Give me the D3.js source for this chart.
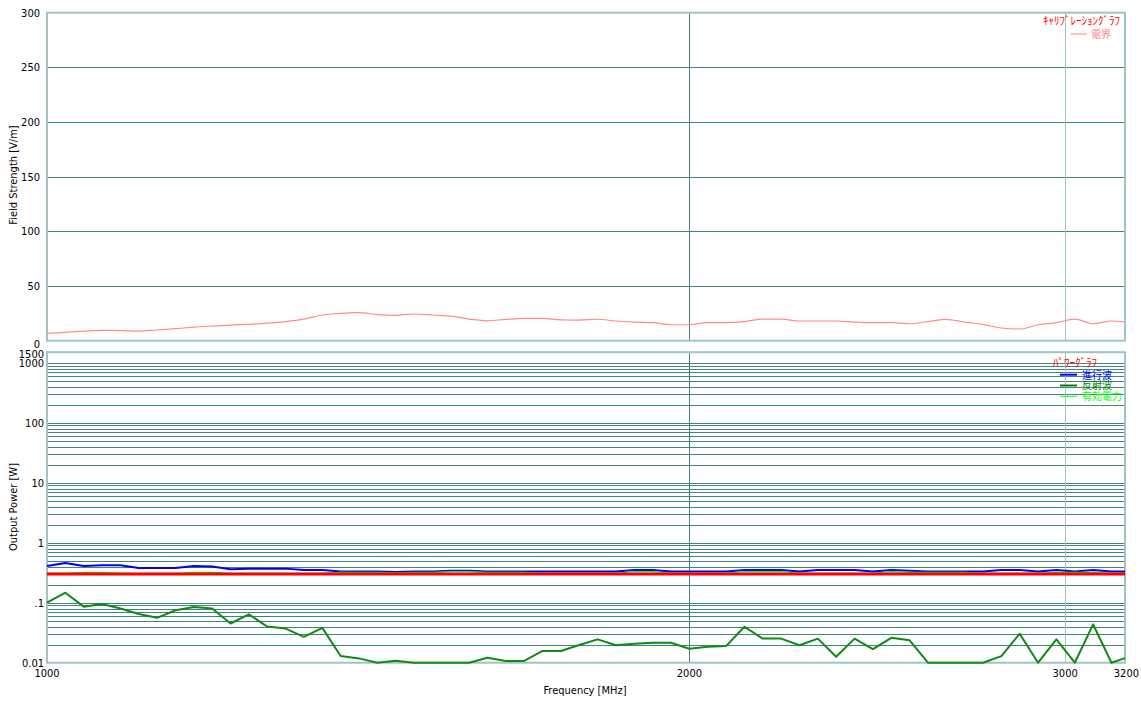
<!DOCTYPE html>
<html>
<head>
<meta charset="utf-8">
<script src="https://cdn.jsdelivr.net/npm/d3@7"></script>
<style>
  body { margin: 0; background: #fff; }
  svg text { font-family: "Liberation Sans Narrow", "DejaVu Sans Condensed", sans-serif; font-size: 11px; fill: #000; }
  .jp { font-family: "Noto Sans CJK JP", sans-serif; font-size: 10px; }
</style>
</head>
<body>
<svg id="chart" width="1141" height="704"></svg>
<script>
// sweep points (MHz), 2% steps
const freqMHz = [1000, 1020, 1040.4, 1061.2, 1082.4, 1104.1, 1126.2, 1148.7, 1171.7, 1195.1,
  1219.0, 1243.4, 1268.2, 1293.6, 1319.5, 1345.9, 1372.8, 1400.2, 1428.2, 1456.8,
  1485.9, 1515.7, 1546.0, 1576.9, 1608.4, 1640.6, 1673.4, 1706.9, 1741.0, 1775.8,
  1811.4, 1847.6, 1884.5, 1922.2, 1960.7, 1999.9, 2039.9, 2080.7, 2122.3, 2164.7,
  2208.0, 2252.2, 2297.2, 2343.2, 2390.1, 2437.9, 2486.6, 2536.4, 2587.1, 2638.8,
  2691.6, 2745.4, 2800.3, 2856.3, 2913.5, 2971.7, 3031.2, 3091.8, 3153.6, 3200];

// calibration graph: field strength [V/m]
const fieldStrength = [6.7, 7.7, 8.7, 9.4, 9.3, 8.8, 9.8, 11, 12.4, 13.4,
  14.3, 15, 16, 17.5, 19.8, 23.5, 25, 25.6, 23.8, 23.2,
  24.4, 23.5, 22.5, 19.8, 18.2, 19.5, 20.4, 20.4, 19, 18.9,
  19.6, 18, 17, 16.5, 14.6, 14.6, 16.5, 16.5, 17.4, 19.8,
  19.8, 18, 18, 18, 17, 16.5, 16.5, 15.5, 17.4, 19.5,
  17, 15, 11.6, 10.7, 14.6, 16.5, 19.8, 15.5, 18, 17];

// power graph [W]
const forwardPower = [0.41, 0.46, 0.41, 0.42, 0.42, 0.38, 0.38, 0.38, 0.41, 0.40,
  0.36, 0.37, 0.37, 0.37, 0.35, 0.35, 0.33, 0.33, 0.33, 0.325,
  0.33, 0.33, 0.34, 0.34, 0.33, 0.33, 0.33, 0.33, 0.33, 0.33,
  0.33, 0.33, 0.35, 0.35, 0.33, 0.33, 0.33, 0.33, 0.35, 0.35,
  0.35, 0.33, 0.35, 0.35, 0.35, 0.33, 0.35, 0.34, 0.33, 0.33,
  0.33, 0.33, 0.35, 0.35, 0.33, 0.35, 0.33, 0.35, 0.33, 0.33];
const reflectedPower = [0.100, 0.147, 0.086, 0.095, 0.080, 0.065, 0.056, 0.075, 0.085, 0.080,
  0.045, 0.064, 0.040, 0.037, 0.027, 0.038, 0.0129, 0.0118, 0.0100, 0.0108,
  0.0100, 0.0100, 0.0100, 0.0100, 0.0121, 0.0107, 0.0107, 0.0157, 0.0157, 0.0197,
  0.0245, 0.0195, 0.0207, 0.0215, 0.0215, 0.0171, 0.0184, 0.0189, 0.0398, 0.0252,
  0.0252, 0.0195, 0.0252, 0.0126, 0.0252, 0.0169, 0.0260, 0.0236, 0.0100, 0.0100,
  0.0100, 0.0100, 0.0129, 0.0304, 0.0100, 0.0245, 0.0100, 0.0436, 0.0100, 0.0119];
const netPower = [0.31, 0.31, 0.32, 0.32, 0.31, 0.31, 0.31, 0.31, 0.32, 0.32,
  0.31, 0.31, 0.31, 0.31, 0.31, 0.31, 0.32, 0.32, 0.32, 0.315,
  0.32, 0.32, 0.33, 0.33, 0.32, 0.32, 0.32, 0.31, 0.31, 0.31,
  0.31, 0.31, 0.33, 0.33, 0.31, 0.31, 0.31, 0.31, 0.33, 0.33,
  0.33, 0.31, 0.31, 0.31, 0.31, 0.31, 0.33, 0.32, 0.32, 0.32,
  0.32, 0.31, 0.31, 0.31, 0.31, 0.32, 0.32, 0.32, 0.31, 0.31];
const targetPower = freqMHz.map(() => 0.3);

const freqTicks = [1000, 2000, 3000, 3200];
const fieldTicks = [0, 50, 100, 150, 200, 250, 300];
const powerTickLabels = [[1500, "1500"], [1000, "1000"], [100, "100"], [10, "10"], [1, "1"], [0.1, ".1"], [0.01, "0.01"]];

const legendField = [{ name: "電界", color: "#ff8080", width: 1 }];
const legendPower = [
  { name: "進行波", color: "#0000ff", width: 2 },
  { name: "反射波", color: "#008000", width: 2 },
  { name: "有効電力", color: "#00ff00", width: 1 }];

// ------- layout -------
const left = 47, right = 1125;
const gridColor = "#3f8383", frameColor = "#9fc4c4";
const svg = d3.select("#chart");

const x = d3.scaleLog().domain([1000, 3200]).range([left, right]);
const yField = d3.scaleLinear().domain([0, 300]).range([340.7, 12.7]);
const yPower = d3.scaleLog().domain([0.01, 1500]).range([662.7, 352.2]);

// ------- top panel: field strength -------
const fieldPanel = svg.append("g");
fieldPanel.selectAll(".hgrid").data(fieldTicks.slice(1, -1)).join("line")
  .attr("x1", left).attr("x2", right)
  .attr("y1", d => Math.round(yField(d)) + 0.5).attr("y2", d => Math.round(yField(d)) + 0.5)
  .attr("stroke", gridColor);
fieldPanel.selectAll(".vgrid").data([2000, 3000]).join("line")
  .attr("x1", d => Math.round(x(d)) + 0.5).attr("x2", d => Math.round(x(d)) + 0.5)
  .attr("y1", yField(300)).attr("y2", yField(0))
  .attr("stroke", d => d == 2000 ? gridColor : frameColor);
fieldPanel.append("rect").attr("x", left).attr("y", yField(300))
  .attr("width", right - left).attr("height", yField(0) - yField(300))
  .attr("fill", "none").attr("stroke", frameColor).attr("stroke-width", 2);
fieldPanel.selectAll(".ylab").data(fieldTicks).join("text")
  .attr("x", 40).attr("y", d => d == 0 ? 348 : yField(d) + 4)
  .attr("text-anchor", "end").text(d => d);
fieldPanel.append("text").attr("transform", "translate(17,175) rotate(-90)")
  .attr("text-anchor", "middle").text("Field Strength [V/m]");

fieldPanel.append("path").datum(fieldStrength)
  .attr("fill", "none").attr("stroke", "#ff8c8c").attr("stroke-width", 1.2)
  .attr("d", d3.line().x((d, i) => x(freqMHz[i])).y(d => yField(d)).curve(d3.curveMonotoneX));

// legend
fieldPanel.append("text").attr("class", "jp").attr("x", 1120).attr("y", 25)
  .attr("text-anchor", "end").style("fill", "#ff0000").style("font-size", "11px").text("ｷｬﾘﾌﾞﾚｰｼｮﾝｸﾞﾗﾌ");
legendField.forEach((d, i) => {
  fieldPanel.append("line").attr("x1", 1071).attr("x2", 1087)
    .attr("y1", 34 + i * 11).attr("y2", 34 + i * 11)
    .attr("stroke", d.color).attr("stroke-width", d.width);
  fieldPanel.append("text").attr("class", "jp").attr("x", 1091).attr("y", 37.5 + i * 11)
    .style("fill", d.color).text(d.name);
});

// ------- bottom panel: output power -------
const powerPanel = svg.append("g");
const minorTicks = [];
[0.01, 0.1, 1, 10, 100].forEach(dec => {
  for (let k = 1; k <= 9; k++) {
    if (dec * k > 0.01) minorTicks.push(dec * k);
  }
});
minorTicks.push(1000);
powerPanel.selectAll(".hgrid").data(minorTicks).join("line")
  .attr("x1", left).attr("x2", right)
  .attr("y1", d => Math.round(yPower(d)) + 0.5).attr("y2", d => Math.round(yPower(d)) + 0.5)
  .attr("stroke", gridColor);
powerPanel.selectAll(".vgrid").data([2000, 3000]).join("line")
  .attr("x1", d => Math.round(x(d)) + 0.5).attr("x2", d => Math.round(x(d)) + 0.5)
  .attr("y1", yPower(1500)).attr("y2", yPower(0.01))
  .attr("stroke", d => d == 2000 ? gridColor : frameColor);
powerPanel.append("rect").attr("x", left).attr("y", yPower(1500))
  .attr("width", right - left).attr("height", yPower(0.01) - yPower(1500))
  .attr("fill", "none").attr("stroke", frameColor).attr("stroke-width", 2);
powerPanel.selectAll(".ylab").data(powerTickLabels).join("text")
  .attr("x", 44).attr("y", d => d[0] == 1500 ? 357.5 : d[0] == 1000 ? 366.5 : yPower(d[0]) + 4)
  .attr("text-anchor", "end").text(d => d[1]);
powerPanel.append("text").attr("transform", "translate(17,507) rotate(-90)")
  .attr("text-anchor", "middle").text("Output Power [W]");

powerPanel.selectAll(".xlab").data(freqTicks).join("text")
  .attr("x", d => d == 3200 ? 1139 : x(d)).attr("y", 677)
  .attr("text-anchor", d => d == 3200 ? "end" : "middle").text(d => d);
powerPanel.append("text").attr("x", 585).attr("y", 694)
  .attr("text-anchor", "middle").text("Frequency [MHz]");

const powerLine = d3.line().x((d, i) => x(freqMHz[i])).y(d => yPower(d));
[[forwardPower, "#0000ff", 2], [netPower, "#00ff00", 1.2], [targetPower, "#ff0000", 3],
 [reflectedPower, "#108a10", 2]].forEach(s => {
  powerPanel.append("path").datum(s[0])
    .attr("fill", "none").attr("stroke", s[1]).attr("stroke-width", s[2])
    .attr("stroke-linejoin", "round").attr("d", powerLine);
});

// legend
powerPanel.append("text").attr("class", "jp").attr("x", 1053).attr("y", 367)
  .style("fill", "#ff0000").style("font-size", "11px").text("ﾊﾟﾜｰｸﾞﾗﾌ");
legendPower.forEach((d, i) => {
  powerPanel.append("line").attr("x1", 1060).attr("x2", 1077)
    .attr("y1", 374.7 + i * 10.8).attr("y2", 374.7 + i * 10.8)
    .attr("stroke", d.color).attr("stroke-width", d.width);
  powerPanel.append("text").attr("class", "jp").attr("x", 1082).attr("y", 378.5 + i * 10.8)
    .style("fill", d.color).text(d.name);
});
</script>
</body>
</html>
